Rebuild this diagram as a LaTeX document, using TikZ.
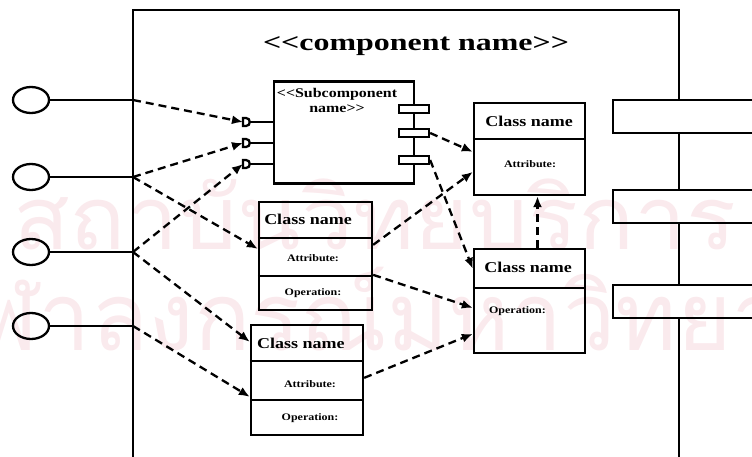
\documentclass[tikz,border=0pt]{standalone}
\usepackage{fontspec}
\usepackage{graphicx}
\setmainfont{Liberation Serif}[FakeStretch=1.2]
\newfontfamily\titlefont{Liberation Serif}[FakeStretch=1.33]
\newfontfamily\wmfont[Script=Thai]{Loma}
\usetikzlibrary{arrows.meta,shapes.geometric}
\definecolor{wmcol}{RGB}{250,234,237}
\begin{document}
\begin{tikzpicture}[x=1pt,y=-1pt,line width=2.3pt,
  box/.style={draw,line width=2.3pt,rectangle,inner sep=0pt},
  rport/.style={draw,line width=2.3pt,rectangle,inner sep=0pt,fill=white,minimum width=30pt,minimum height=8pt},
  iface/.style={draw,ellipse,line width=2.3pt,inner sep=0pt,minimum width=36pt,minimum height=26pt},
  dep/.style={line width=2.3pt,dash pattern=on 8pt off 5pt,-{Latex[length=11pt,width=9pt]}},
  cname/.style={font=\bfseries\fontsize{15}{17}\selectfont,inner sep=0pt},
  small/.style={font=\bfseries\fontsize{10}{12}\selectfont,inner sep=0pt},
  wmk/.style={text=wmcol,font=\wmfont\fontsize{100}{110}\selectfont,inner sep=0pt},
  dport/.pic={\draw[line width=2.3pt,fill=white] (-4,-4) -- (-1,-4) .. controls (4,-4) and (4,4) .. (-1,4) -- (-4,4) -- cycle;}
]
\useasboundingbox (0,0) rectangle (752,457);
\clip (0,0) rectangle (752,457);
% watermark
\node[wmk,anchor=base west] (w1) at (12,249) {\scalebox{0.93}[0.88]{สถาบันวิทยบริการ}};
\node[wmk,anchor=base west] (w2) at (-81,350) {\scalebox{0.934}[0.95]{จุฬาลงกรณ์มหาวิทยาลัย}};
% component frame
\draw (133,457) -- (133,10) -- (679,10) -- (679,99);
\draw (679,132) -- (679,189);
\draw (679,222) -- (679,284);
\draw (679,317) -- (679,457);
\node[box,minimum width=178pt,minimum height=33pt,anchor=north west] (f1) at (612,99) {};
\node[box,minimum width=178pt,minimum height=33pt,anchor=north west] (f2) at (612,189) {};
\node[box,minimum width=178pt,minimum height=33pt,anchor=north west] (f3) at (612,284) {};
\node[font=\titlefont\bfseries\fontsize{24}{28}\selectfont,inner sep=0pt] (title) at (416,46) {<{}<component name>{}>};
% interfaces
\node[iface] (i1) at (31,100) {};
\node[iface] (i2) at (31,177) {};
\node[iface] (i3) at (31,252) {};
\node[iface] (i4) at (31,326) {};
\coordinate (j1) at (133,100);
\coordinate (j2) at (133,177);
\coordinate (j3) at (133,252);
\coordinate (j4) at (133,326);
\draw (i1.east) -- (j1);
\draw (i2.east) -- (j2);
\draw (i3.east) -- (j3);
\draw (i4.east) -- (j4);
% subcomponent
\node[box,minimum width=140pt,minimum height=102pt] (sub) at (344,132.5) {};
\node[font=\bfseries\fontsize{13.3}{15}\selectfont,align=center,inner sep=0pt] (subt) at (337,100) {<{}<Subcomponent\\name>{}>};
\draw (sub.west |- 0,122) -- (250,122);
\draw (sub.west |- 0,143) -- (250,143);
\draw (sub.west |- 0,164) -- (250,164);
\pic at (247,122) {dport};
\pic at (247,143) {dport};
\pic at (247,164) {dport};
\coordinate (d1) at (243,122);
\coordinate (d2) at (243,143);
\coordinate (d3) at (243,164);
\node[rport] (r1) at (414,109) {};
\node[rport] (r2) at (414,133) {};
\node[rport] (r3) at (414,160) {};
% class A
\node[box,minimum width=111pt,minimum height=92pt] (cA) at (529.5,149) {};
\draw (cA.west |- 0,139) -- (cA.east |- 0,139);
\node[cname] (cAn) at (529,121) {Class name};
\node[small] (cAa) at (530,164) {Attribute:};
% class B
\node[box,minimum width=111pt,minimum height=104pt] (cB) at (529.5,301) {};
\draw (cB.west |- 0,288) -- (cB.east |- 0,288);
\node[cname] (cBn) at (528,267) {Class name};
\node[small,anchor=west] (cBo) at (488,311) {Operation:};
% class C
\node[box,minimum width=113pt,minimum height=108pt] (cC) at (315.5,256) {};
\draw (cC.west |- 0,238) -- (cC.east |- 0,238);
\draw (cC.west |- 0,276) -- (cC.east |- 0,276);
\node[cname] (cCn) at (308,219) {Class name};
\node[small] (cCa) at (313,258) {Attribute:};
\node[small] (cCo) at (313,293) {Operation:};
% class D
\node[box,minimum width=112pt,minimum height=110pt] (cD) at (307,380) {};
\draw (cD.west |- 0,361) -- (cD.east |- 0,361);
\draw (cD.west |- 0,400) -- (cD.east |- 0,400);
\node[cname,anchor=west] (cDn) at (256,343) {Class name};
\node[small] (cDa) at (310,384) {Attribute:};
\node[small] (cDo) at (310,418) {Operation:};
% dependencies
\draw[dep] (j1) -- (d1);
\draw[dep] (j2) -- (d2);
\draw[dep] (j2) -- ([yshift=-48pt]cC.north west);
\draw[dep] (j3) -- (d3);
\draw[dep] (j3) -- ([yshift=-18pt]cD.north west);
\draw[dep] (j4) -- ([yshift=-73pt]cD.north west);
\draw[dep] (r2.east) -- ([yshift=-50pt]cA.north west);
\draw[dep] ([yshift=-44pt]cC.north east) -- ([yshift=-70pt]cA.north west);
\draw[dep] (r3.east) -- ([yshift=-21pt]cB.north west);
\draw[dep] ([yshift=-74pt]cC.north east) -- ([yshift=-60pt]cB.north west);
\draw[dep] ([yshift=-54pt]cD.north east) -- ([yshift=-86pt]cB.north west);
\draw[dep] ([xshift=8pt]cB.north) -- ([xshift=8pt]cA.south);
\end{tikzpicture}
\end{document}
